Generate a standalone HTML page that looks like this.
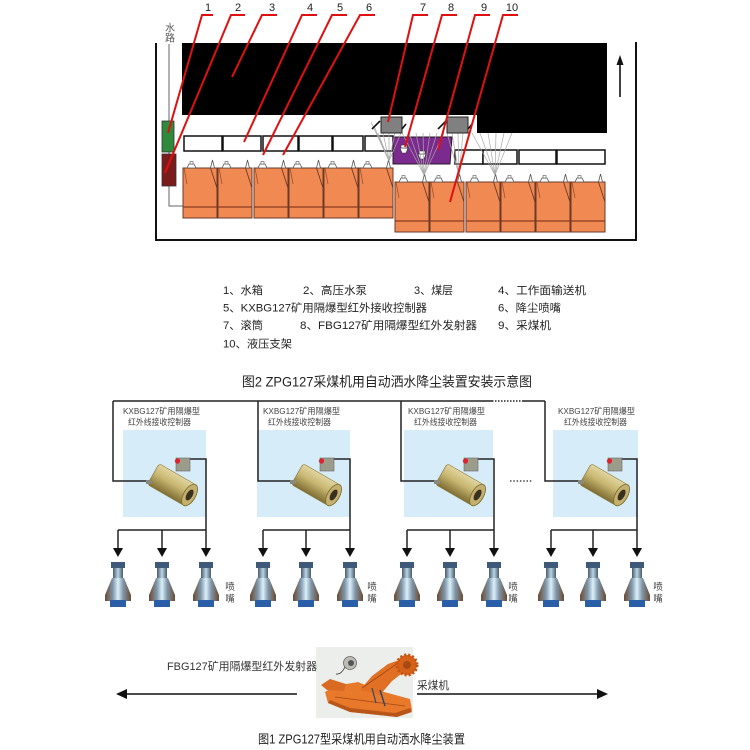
<!DOCTYPE html>
<html><head><meta charset="utf-8"><style>
html,body{margin:0;padding:0;background:#fff;width:750px;height:750px;overflow:hidden}
svg{display:block}
text{font-family:"Liberation Sans","Noto Sans CJK SC",sans-serif}
</style></head><body>
<svg width="750" height="750" viewBox="0 0 750 750" xmlns="http://www.w3.org/2000/svg">
<defs>
<g id="sup">
<rect x="0" y="0" width="34" height="50" fill="#f08a52" stroke="#6a3a28" stroke-width="1"/>
<line x1="0" y1="39" x2="34" y2="39" stroke="#8a3a22" stroke-width="1.2"/>
<line x1="27.5" y1="0" x2="34" y2="20" stroke="#6a3a28" stroke-width="0.9"/>
<line x1="1" y1="0" x2="4" y2="16" stroke="#9a4a2a" stroke-width="0.7"/>
<polygon points="29.5,-8 31.5,0 27.5,0" fill="#fff" stroke="#555" stroke-width="0.8"/>
<polygon points="4,0 6,-4 11,-4 13,0" fill="#fff" stroke="#555" stroke-width="0.8"/>
<rect x="7" y="-6.5" width="3" height="2.5" fill="#fff" stroke="#555" stroke-width="0.6"/>
</g>
<linearGradient id="noz" x1="0" y1="0" x2="1" y2="0">
<stop offset="0" stop-color="#6b4a30"/><stop offset="0.3" stop-color="#7f97aa"/>
<stop offset="0.5" stop-color="#dcf0fa"/><stop offset="0.7" stop-color="#7f97aa"/>
<stop offset="1" stop-color="#6b4a30"/></linearGradient>
<linearGradient id="neck" x1="0" y1="0" x2="1" y2="0">
<stop offset="0" stop-color="#4a5a6a"/><stop offset="0.5" stop-color="#b8d4e4"/><stop offset="1" stop-color="#4a5a6a"/></linearGradient>
<linearGradient id="cyl" x1="0" y1="0" x2="0" y2="1">
<stop offset="0" stop-color="#e2d6a0"/><stop offset="0.45" stop-color="#c8b672"/><stop offset="1" stop-color="#7e6c32"/></linearGradient>
<g id="nz">
<rect x="-7" y="0" width="14" height="6" fill="#3e5a78"/>
<rect x="-5" y="6" width="10" height="10" fill="url(#neck)"/>
<polygon points="-6,16 6,16 13,33 13,39 -13,39 -13,33" fill="url(#noz)"/>
<rect x="-8" y="38" width="16" height="7" fill="#2a5fa8"/>
</g>
<g id="ctl">
<g transform="translate(24,486) rotate(30)">
<rect x="-24" y="-12" width="42" height="24" rx="3" fill="url(#cyl)" stroke="#8a7a40" stroke-width="0.6"/>
<ellipse cx="18" cy="0" rx="6" ry="12" fill="#c4b06c" stroke="#7a6a30" stroke-width="0.8"/>
<ellipse cx="18" cy="0" rx="3" ry="6" fill="#3a3020"/>
</g>
<rect x="-4" y="480" width="6" height="4" fill="#8a8a7a"/>
<rect x="26" y="458" width="14" height="13" fill="#9c9c8c" stroke="#666" stroke-width="0.6"/>
<circle cx="27.5" cy="461" r="2.6" fill="#e0202a"/>
</g>
</defs>

<!-- ===== Top diagram ===== -->
<polyline points="156,43 156,240 636,240 636,42" fill="none" stroke="#111" stroke-width="2"/>
<rect x="182" y="43" width="425" height="72" fill="#000"/>
<rect x="477" y="114" width="130" height="19" fill="#000"/>

<text x="170" y="31.5" font-size="10" fill="#555" text-anchor="middle">水</text>
<text x="170" y="41.5" font-size="10" fill="#555" text-anchor="middle">路</text>
<line x1="169" y1="44" x2="169" y2="121" stroke="#666" stroke-width="1"/>
<line x1="169" y1="152" x2="169" y2="154" stroke="#666" stroke-width="1"/>
<polyline points="169,186 169,206 184,206" fill="none" stroke="#666" stroke-width="1"/>
<rect x="162" y="121" width="12" height="31" fill="#2f8a3c" stroke="#333" stroke-width="0.8"/>
<rect x="162" y="154" width="14" height="32" fill="#7a1c1c" stroke="#333" stroke-width="0.8"/>

<!-- conveyor -->
<g fill="#fff" stroke="#111" stroke-width="1.5">
<rect x="184" y="136" width="38" height="15"/><rect x="223" y="136" width="38" height="15"/>
<rect x="263" y="136" width="35" height="15"/><rect x="299" y="136" width="33" height="15"/>
<rect x="333" y="136" width="30" height="15"/><rect x="365" y="136" width="28" height="15"/>
<rect x="455" y="150" width="28" height="14"/><rect x="483" y="150" width="34" height="14"/>
<rect x="519" y="150" width="37" height="14"/><rect x="557" y="150" width="48" height="14"/>
</g>

<!-- supports -->
<use href="#sup" x="183" y="168"/><use href="#sup" x="218" y="168"/>
<use href="#sup" x="254" y="168"/><use href="#sup" x="289" y="168"/>
<use href="#sup" x="324" y="168"/><use href="#sup" x="359" y="168"/>
<use href="#sup" x="395" y="182"/><use href="#sup" x="430" y="182"/>
<use href="#sup" x="466" y="182"/><use href="#sup" x="501" y="182"/>
<use href="#sup" x="536" y="182"/><use href="#sup" x="571" y="182"/>

<!-- shearer body -->
<polygon points="393,137 452,137 450,164 393,164" fill="#7b2b8e" stroke="#2a1a2a" stroke-width="1"/>
<g fill="#fff" stroke="#333" stroke-width="0.6">
<polygon points="400,148 408,148 406,153 402,153"/><rect x="401" y="145" width="6" height="3"/>
<polygon points="418,154 426,154 424,159 420,159"/><rect x="419" y="151" width="6" height="3"/>
</g>
<!-- fans -->
<g stroke="#a8a8a8" stroke-width="0.7">
<line x1="371" y1="122" x2="389" y2="161"/><line x1="374" y1="126" x2="389" y2="161"/>
<line x1="378" y1="133" x2="389" y2="161"/><line x1="383" y1="133" x2="389" y2="161"/>
<line x1="389" y1="133" x2="389" y2="161"/><line x1="395" y1="133" x2="389" y2="161"/>
<line x1="401" y1="133" x2="389" y2="161"/>
<line x1="402" y1="133" x2="424" y2="175"/><line x1="409" y1="133" x2="424" y2="175"/>
<line x1="416" y1="133" x2="424" y2="175"/><line x1="423" y1="133" x2="424" y2="175"/>
<line x1="430" y1="133" x2="424" y2="175"/><line x1="437" y1="133" x2="424" y2="175"/>
<line x1="444" y1="133" x2="424" y2="175"/>
<line x1="447" y1="133" x2="459" y2="175"/><line x1="452" y1="133" x2="459" y2="175"/>
<line x1="458" y1="133" x2="459" y2="175"/><line x1="463" y1="133" x2="459" y2="175"/>
<line x1="469" y1="133" x2="459" y2="175"/>
<line x1="472" y1="133" x2="495" y2="175"/><line x1="480" y1="133" x2="495" y2="175"/>
<line x1="488" y1="133" x2="495" y2="175"/><line x1="496" y1="133" x2="495" y2="175"/>
<line x1="504" y1="133" x2="495" y2="175"/><line x1="512" y1="133" x2="495" y2="175"/>
</g>
<!-- drums -->
<rect x="381" y="117" width="21" height="16" fill="#808080" stroke="#222" stroke-width="1"/>
<rect x="447" y="117" width="21" height="16" fill="#808080" stroke="#222" stroke-width="1"/>
<g stroke="#111" stroke-width="1.6">
<line x1="372" y1="129" x2="380" y2="121"/><line x1="402" y1="129" x2="406" y2="124"/>
<line x1="438" y1="129" x2="446" y2="121"/><line x1="468" y1="129" x2="472" y2="124"/>
</g>

<!-- arrow -->
<line x1="620" y1="97" x2="620" y2="63" stroke="#111" stroke-width="1.6"/>
<polygon points="620,55 616.5,65 623.5,65" fill="#111"/>

<!-- leaders -->
<g stroke="#e01010" stroke-width="2" fill="none">
<polyline points="213,15 202,15 168,133"/>
<polyline points="245,15 231,15 165,173"/>
<polyline points="277,15 262,15 232,77"/>
<polyline points="317,15 302,15 244,142"/>
<polyline points="347,15 332,15 263,155"/>
<polyline points="375,15 360,15 283,155"/>
<polyline points="428,15 413,15 388,122"/>
<polyline points="457,15 442,15 405,147"/>
<polyline points="490,15 475,15 438,150"/>
<polyline points="518,15 503,15 450,202"/>
</g>
<g font-size="11" fill="#222" text-anchor="middle">
<text x="208" y="11">1</text><text x="238" y="11">2</text><text x="272" y="11">3</text>
<text x="310" y="11">4</text><text x="340" y="11">5</text><text x="369" y="11">6</text>
<text x="423" y="11">7</text><text x="451" y="11">8</text><text x="484" y="11">9</text>
<text x="512" y="11">10</text>
</g>

<!-- legend -->
<g font-size="11" fill="#222" lengthAdjust="spacingAndGlyphs">
<text x="223" y="294" textLength="40" lengthAdjust="spacingAndGlyphs">1、水箱</text>
<text x="303" y="294" textLength="64" lengthAdjust="spacingAndGlyphs">2、高压水泵</text>
<text x="414" y="294" textLength="39" lengthAdjust="spacingAndGlyphs">3、煤层</text>
<text x="498" y="294" textLength="88" lengthAdjust="spacingAndGlyphs">4、工作面输送机</text>
<text x="223" y="311.5" textLength="204" lengthAdjust="spacingAndGlyphs">5、KXBG127矿用隔爆型红外接收控制器</text>
<text x="498" y="311.5" textLength="63" lengthAdjust="spacingAndGlyphs">6、降尘喷嘴</text>
<text x="223" y="329" textLength="40" lengthAdjust="spacingAndGlyphs">7、滚筒</text>
<text x="300" y="329" textLength="177" lengthAdjust="spacingAndGlyphs">8、FBG127矿用隔爆型红外发射器</text>
<text x="498" y="329" textLength="53" lengthAdjust="spacingAndGlyphs">9、采煤机</text>
<text x="223" y="347.5" textLength="69" lengthAdjust="spacingAndGlyphs">10、液压支架</text>
</g>
<text x="242" y="386.5" font-size="13.5" fill="#222" textLength="290" lengthAdjust="spacingAndGlyphs">图2 ZPG127采煤机用自动洒水降尘装置安装示意图</text>

<!-- ===== Middle diagram ===== -->
<rect x="123" y="430" width="83" height="87" fill="#d6ecf8"/>
<rect x="257" y="430" width="93" height="87" fill="#d6ecf8"/>
<rect x="404" y="430" width="89" height="87" fill="#d6ecf8"/>
<rect x="553" y="430" width="85" height="87" fill="#d6ecf8"/>

<g stroke="#222" stroke-width="1.5" fill="none">
<line x1="113" y1="401" x2="492" y2="401"/>
<line x1="492" y1="401" x2="522" y2="401" stroke-dasharray="1.5 1.5"/>
<line x1="522" y1="401" x2="545" y2="401"/>
<polyline points="113,401 113,481 150,481"/>
<polyline points="258,401 258,481 300,481"/>
<polyline points="401,401 401,481 442,481"/>
<polyline points="545,401 545,481 587,481"/>
<line x1="510" y1="481" x2="533" y2="481" stroke-dasharray="1.5 1.8" stroke-width="1.2"/>
<polyline points="190,459 206,459 206,530"/>
<polyline points="334,459 350,459 350,530"/>
<polyline points="478,459 494,459 494,530"/>
<polyline points="622,459 637,459 637,530"/>
<line x1="118" y1="530" x2="206" y2="530"/>
<line x1="263" y1="530" x2="350" y2="530"/>
<line x1="407" y1="530" x2="494" y2="530"/>
<line x1="551" y1="530" x2="637" y2="530"/>
<line x1="118" y1="530" x2="118" y2="549"/><line x1="162" y1="530" x2="162" y2="549"/><line x1="206" y1="530" x2="206" y2="549"/>
<line x1="263" y1="530" x2="263" y2="549"/><line x1="306" y1="530" x2="306" y2="549"/><line x1="350" y1="530" x2="350" y2="549"/>
<line x1="407" y1="530" x2="407" y2="549"/><line x1="450" y1="530" x2="450" y2="549"/><line x1="494" y1="530" x2="494" y2="549"/>
<line x1="551" y1="530" x2="551" y2="549"/><line x1="593" y1="530" x2="593" y2="549"/><line x1="637" y1="530" x2="637" y2="549"/>
</g>
<g fill="#111">
<polygon points="113,548 123,548 118,557"/><polygon points="157,548 167,548 162,557"/><polygon points="201,548 211,548 206,557"/>
<polygon points="258,548 268,548 263,557"/><polygon points="301,548 311,548 306,557"/><polygon points="345,548 355,548 350,557"/>
<polygon points="402,548 412,548 407,557"/><polygon points="445,548 455,548 450,557"/><polygon points="489,548 499,548 494,557"/>
<polygon points="546,548 556,548 551,557"/><polygon points="588,548 598,548 593,557"/><polygon points="632,548 642,548 637,557"/>
</g>

<use href="#ctl" x="150" y="0"/>
<use href="#ctl" x="294" y="0"/>
<use href="#ctl" x="438" y="0"/>
<use href="#ctl" x="582" y="0"/>

<g font-size="8.5" fill="#444">
<text x="123" y="414" textLength="77" lengthAdjust="spacingAndGlyphs">KXBG127矿用隔爆型</text>
<text x="128" y="425" textLength="63" lengthAdjust="spacingAndGlyphs">红外线接收控制器</text>
<text x="263" y="414" textLength="77" lengthAdjust="spacingAndGlyphs">KXBG127矿用隔爆型</text>
<text x="268" y="425" textLength="63" lengthAdjust="spacingAndGlyphs">红外线接收控制器</text>
<text x="408" y="414" textLength="77" lengthAdjust="spacingAndGlyphs">KXBG127矿用隔爆型</text>
<text x="414" y="425" textLength="63" lengthAdjust="spacingAndGlyphs">红外线接收控制器</text>
<text x="558" y="414" textLength="77" lengthAdjust="spacingAndGlyphs">KXBG127矿用隔爆型</text>
<text x="564" y="425" textLength="63" lengthAdjust="spacingAndGlyphs">红外线接收控制器</text>
</g>

<use href="#nz" x="118" y="562"/><use href="#nz" x="162" y="562"/><use href="#nz" x="206" y="562"/>
<use href="#nz" x="263" y="562"/><use href="#nz" x="306" y="562"/><use href="#nz" x="350" y="562"/>
<use href="#nz" x="407" y="562"/><use href="#nz" x="450" y="562"/><use href="#nz" x="494" y="562"/>
<use href="#nz" x="551" y="562"/><use href="#nz" x="593" y="562"/><use href="#nz" x="637" y="562"/>

<g font-size="9.5" fill="#444" text-anchor="middle">
<text x="230" y="590">喷</text><text x="230" y="602">嘴</text>
<text x="372" y="590">喷</text><text x="372" y="602">嘴</text>
<text x="513" y="590">喷</text><text x="513" y="602">嘴</text>
<text x="658" y="590">喷</text><text x="658" y="602">嘴</text>
</g>

<!-- ===== Bottom ===== -->
<rect x="316" y="647" width="97" height="71" fill="#eceeec"/>
<g>
<polygon points="325,692 335,686 358,682 377,690 410,699 412,710 397,717 350,712 328,703" fill="#e8782a"/>
<polygon points="330,700 350,708 395,713 410,708 412,712 397,717 350,712 328,703" fill="#b8561a"/>
<polygon points="360,690 372,676 388,664 402,659 405,671 392,681 380,695" fill="#e27024"/>
<line x1="362" y1="688" x2="398" y2="663" stroke="#a84a14" stroke-width="1"/>
<circle cx="407" cy="665" r="10" fill="#d6621a" stroke="#c25414" stroke-width="3" stroke-dasharray="2 2"/>
<circle cx="407" cy="665" r="4" fill="#a84a14"/>
<polygon points="321,685 330,679 346,684 344,691 327,690" fill="#d86a22"/>
<line x1="335" y1="697" x2="405" y2="706" stroke="#a84a14" stroke-width="0.8"/>
<line x1="380" y1="690" x2="385" y2="706" stroke="#2a4a6a" stroke-width="1.5"/>
<line x1="372" y1="688" x2="376" y2="703" stroke="#2a4a6a" stroke-width="1.2"/>
</g>
<ellipse cx="350" cy="663" rx="6.5" ry="6.5" fill="#bcbcb4" stroke="#666" stroke-width="0.8"/>
<circle cx="351" cy="663" r="3" fill="#555"/>
<path d="M336,674 Q341,675 345,667" fill="none" stroke="#555" stroke-width="0.9"/>

<text x="167" y="670" font-size="11" fill="#333" textLength="150" lengthAdjust="spacingAndGlyphs">FBG127矿用隔爆型红外发射器</text>
<text x="417" y="689" font-size="11" fill="#333" textLength="32" lengthAdjust="spacingAndGlyphs">采煤机</text>

<line x1="297" y1="694" x2="124" y2="694" stroke="#111" stroke-width="1.5"/>
<polygon points="116,694 127,689 127,699" fill="#111"/>
<line x1="417" y1="694" x2="599" y2="694" stroke="#111" stroke-width="1.5"/>
<polygon points="608,694 597,689 597,699" fill="#111"/>

<text x="258" y="743.5" font-size="12.5" fill="#222" textLength="207" lengthAdjust="spacingAndGlyphs">图1 ZPG127型采煤机用自动洒水降尘装置</text>
</svg>
</body></html>
